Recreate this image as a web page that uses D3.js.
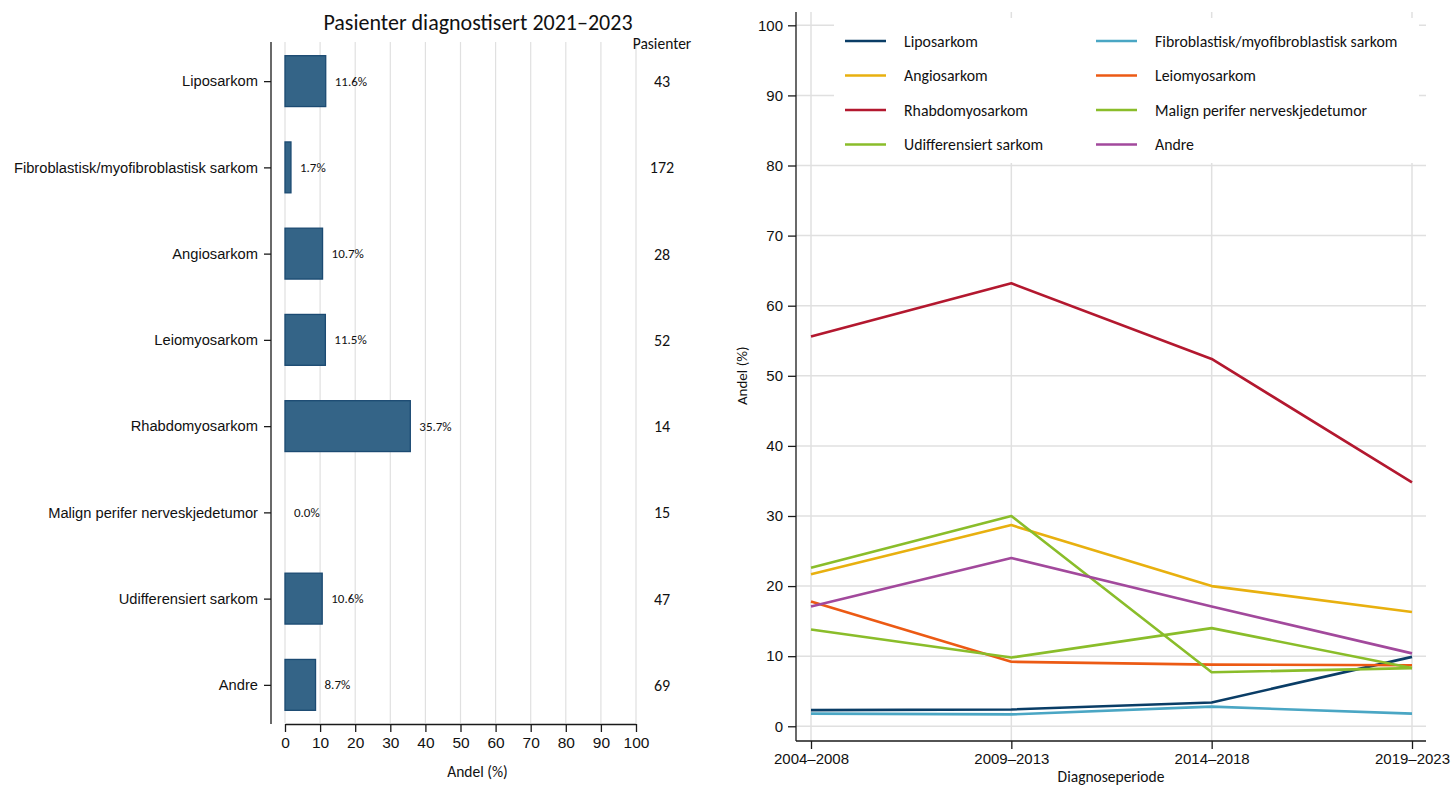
<!DOCTYPE html>
<html>
<head>
<meta charset="utf-8">
<script src="https://cdn.jsdelivr.net/npm/d3@7"></script>
<style>
  body { margin: 0; background: #fff; }
  svg { display: block; font-family: Carlito, Lato, "Open Sans", sans-serif; }
</style>
</head>
<body>
<svg id="chart" width="1451" height="785"></svg>
<script>
// Bar panel: share per diagnosis group, 2021–2023
const categories = [
  "Liposarkom",
  "Fibroblastisk/myofibroblastisk sarkom",
  "Angiosarkom",
  "Leiomyosarkom",
  "Rhabdomyosarkom",
  "Malign perifer nerveskjedetumor",
  "Udifferensiert sarkom",
  "Andre"
];
const shares = [11.6, 1.7, 10.7, 11.5, 35.7, 0.0, 10.6, 8.7];
const patients = [43, 172, 28, 52, 14, 15, 47, 69];
const xTicks = [0, 10, 20, 30, 40, 50, 60, 70, 80, 90, 100];

// Line panel: share per diagnosis period
const periods = ["2004–2008", "2009–2013", "2014–2018", "2019–2023"];
const seriesNames = [
  "Liposarkom",
  "Fibroblastisk/myofibroblastisk sarkom",
  "Angiosarkom",
  "Leiomyosarkom",
  "Rhabdomyosarkom",
  "Malign perifer nerveskjedetumor",
  "Udifferensiert sarkom",
  "Andre"
];
const liposarkom   = [2.3, 2.4, 3.4, 9.9];
const fibroblast   = [1.8, 1.7, 2.8, 1.8];
const angiosarkom  = [21.7, 28.7, 20.0, 16.3];
const leiomyo      = [17.8, 9.2, 8.8, 8.7];
const rhabdomyo    = [55.6, 63.2, 52.4, 34.8];
const malignPNST   = [22.6, 30.0, 7.7, 8.3];
const udiff        = [13.8, 9.8, 14.0, 8.3];
const andre        = [17.1, 24.0, 17.1, 10.4];
const seriesValues = [liposarkom, fibroblast, angiosarkom, leiomyo, rhabdomyo, malignPNST, udiff, andre];
const seriesColors = ["#0a3d66", "#4aa6c4", "#e8b00f", "#ec5a14", "#b3182f", "#8abd2a", "#8abd2a", "#a2499c"];
const yTicks = [0, 10, 20, 30, 40, 50, 60, 70, 80, 90, 100];

const svg = d3.select("#chart");
const gridColor = "#e0e0e0";
const axisColor = "#1a1a1a";

// ---------- Left panel ----------
const L = { left: 285, right: 636, top: 42, bottom: 724, axisX: 271 };
const xBar = d3.scaleLinear().domain([0, 100]).range([L.left, L.right]);
const yBand = d3.scalePoint().domain(categories).range([38, 728]).padding(0.5);
const barH = yBand.step() * 0.59;

svg.append("text")
  .attr("x", 478).attr("y", 30)
  .attr("text-anchor", "middle")
  .attr("font-size", 22).attr("fill", "#111")
  .text("Pasienter diagnostisert 2021–2023");

// vertical grid
svg.append("g").selectAll("line").data(xTicks).join("line")
  .attr("x1", d => xBar(d)).attr("x2", d => xBar(d))
  .attr("y1", L.top).attr("y2", L.bottom - 1)
  .attr("stroke", gridColor).attr("stroke-width", 1.2);

// bars
svg.append("g").selectAll("rect").data(categories).join("rect")
  .attr("x", xBar(0))
  .attr("y", d => yBand(d) - barH / 2)
  .attr("width", (d, i) => xBar(shares[i]) - xBar(0))
  .attr("height", barH)
  .attr("fill", "#346487")
  .attr("stroke", "#1b4a72")
  .attr("stroke-width", 1.3);

// value labels
svg.append("g").selectAll("text").data(categories).join("text")
  .attr("x", (d, i) => xBar(shares[i]) + 9)
  .attr("y", d => yBand(d) + 4.5)
  .attr("font-size", 13).attr("fill", "#111")
  .text((d, i) => shares[i].toFixed(1) + "%");

// patient counts
svg.append("text")
  .attr("x", 662).attr("y", 49)
  .attr("text-anchor", "middle").attr("font-size", 15.5).attr("fill", "#111")
  .text("Pasienter");
svg.append("g").selectAll("text").data(categories).join("text")
  .attr("x", 662)
  .attr("y", d => yBand(d) + 6)
  .attr("text-anchor", "middle").attr("font-size", 16).attr("fill", "#111")
  .text((d, i) => patients[i]);

// category axis
const yAxisL = svg.append("g")
  .attr("transform", `translate(${L.axisX},0)`)
  .call(d3.axisLeft(yBand).tickSize(7).tickPadding(6).tickSizeOuter(0));
yAxisL.select(".domain").remove();
yAxisL.selectAll(".tick line").attr("stroke", axisColor).attr("stroke-width", 1.3);
yAxisL.selectAll(".tick text").attr("font-size", 14.7).attr("fill", "#111")
  .attr("font-family", null);
svg.append("line")
  .attr("x1", L.axisX).attr("x2", L.axisX)
  .attr("y1", L.top).attr("y2", L.bottom)
  .attr("stroke", axisColor).attr("stroke-width", 1.3);

// value axis
const xAxisL = svg.append("g")
  .attr("transform", `translate(0,${L.bottom})`)
  .call(d3.axisBottom(xBar).tickValues(xTicks).tickSize(8).tickPadding(5).tickSizeOuter(0));
xAxisL.select(".domain").attr("stroke", axisColor).attr("stroke-width", 1.3);
xAxisL.selectAll(".tick line").attr("stroke", axisColor).attr("stroke-width", 1.3);
xAxisL.selectAll(".tick text").attr("font-size", 15.5).attr("fill", "#111")
  .attr("font-family", null);
svg.append("text")
  .attr("x", (L.left + L.right) / 2 + 17).attr("y", 777)
  .attr("text-anchor", "middle").attr("font-size", 15.5).attr("fill", "#111")
  .text("Andel (%)");

// ---------- Right panel ----------
const R = { left: 796, right: 1426, top: 12, bottom: 741 };
const xP = d3.scalePoint().domain(periods).range([811, 1412]);
const yL = d3.scaleLinear().domain([-2.1, 101.9]).range([R.bottom, R.top]);

// horizontal grid
svg.append("g").selectAll("line").data(yTicks).join("line")
  .attr("x1", R.left).attr("x2", R.right)
  .attr("y1", d => yL(d)).attr("y2", d => yL(d))
  .attr("stroke", gridColor).attr("stroke-width", 1.5);
// vertical grid
svg.append("g").selectAll("line").data(periods).join("line")
  .attr("x1", d => xP(d)).attr("x2", d => xP(d))
  .attr("y1", R.top).attr("y2", R.bottom)
  .attr("stroke", gridColor).attr("stroke-width", 1.5);

// lines
const lineGen = d3.line().x((d, i) => xP(periods[i])).y(d => yL(d));
svg.append("g").selectAll("path").data(seriesValues).join("path")
  .attr("d", d => lineGen(d))
  .attr("fill", "none")
  .attr("stroke", (d, i) => seriesColors[i])
  .attr("stroke-width", 2.6)
  .attr("stroke-linejoin", "round");

// legend
const lg = svg.append("g");
lg.append("rect")
  .attr("x", 834).attr("y", 18).attr("width", 585).attr("height", 145)
  .attr("fill", "#fff");
const legendItems = lg.selectAll("g").data(seriesNames).join("g")
  .attr("transform", (d, i) => `translate(${i % 2 === 0 ? 845 : 1096},${41 + Math.floor(i / 2) * 34.5})`);
legendItems.append("line")
  .attr("x1", 0).attr("x2", 41).attr("y1", 0).attr("y2", 0)
  .attr("stroke", (d, i) => seriesColors[i]).attr("stroke-width", 2.6);
legendItems.append("text")
  .attr("x", 59).attr("y", 5.5)
  .attr("font-size", 15.8).attr("fill", "#111")
  .text(d => d);

// y axis
const yAxisR = svg.append("g")
  .attr("transform", `translate(${R.left},0)`)
  .call(d3.axisLeft(yL).tickValues(yTicks).tickSize(8).tickPadding(5).tickSizeOuter(0));
yAxisR.select(".domain").remove();
yAxisR.selectAll(".tick line").attr("stroke", axisColor).attr("stroke-width", 1.3);
yAxisR.selectAll(".tick text").attr("font-size", 15).attr("fill", "#111")
  .attr("font-family", null);
svg.append("line")
  .attr("x1", R.left).attr("x2", R.left)
  .attr("y1", R.top).attr("y2", R.bottom)
  .attr("stroke", axisColor).attr("stroke-width", 1.3);

// x axis
const xAxisR = svg.append("g")
  .attr("transform", `translate(0,${R.bottom})`)
  .call(d3.axisBottom(xP).tickSize(8).tickPadding(4).tickSizeOuter(0));
xAxisR.select(".domain").remove();
xAxisR.selectAll(".tick line").attr("stroke", axisColor).attr("stroke-width", 1.3);
xAxisR.selectAll(".tick text").attr("font-size", 15).attr("fill", "#111")
  .attr("font-family", null);
svg.append("line")
  .attr("x1", R.left).attr("x2", R.right)
  .attr("y1", R.bottom).attr("y2", R.bottom)
  .attr("stroke", axisColor).attr("stroke-width", 1.3);

svg.append("text")
  .attr("x", 1111).attr("y", 782)
  .attr("text-anchor", "middle").attr("font-size", 15.5).attr("fill", "#111")
  .text("Diagnoseperiode");
svg.append("text")
  .attr("transform", `translate(747,${yL(50)}) rotate(-90)`)
  .attr("text-anchor", "middle").attr("font-size", 15).attr("fill", "#111")
  .text("Andel (%)");
</script>
</body>
</html>
